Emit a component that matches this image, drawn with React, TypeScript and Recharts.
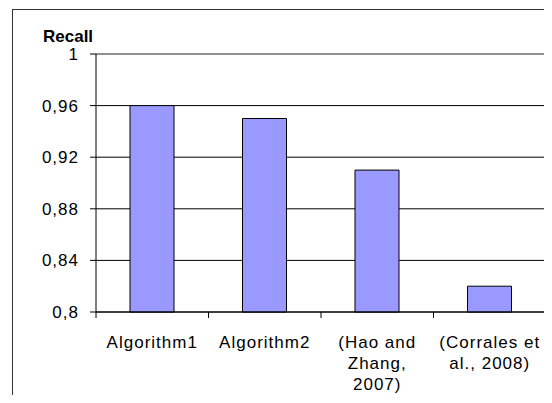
import { BarChart, Bar, XAxis, YAxis, CartesianGrid, ReferenceLine } from 'recharts'

const categories = ['Algorithm1', 'Algorithm2', '(Hao and\nZhang,\n2007)', '(Corrales et\nal., 2008)']
const recall = [0.96, 0.95, 0.91, 0.82]
const yTicks = [0.8, 0.84, 0.88, 0.92, 0.96, 1]

const data = categories.map((name, i) => ({ name, recall: recall[i] }))

const FONT = '"Liberation Sans", Arial, sans-serif'
const WIDTH = 552
const HEIGHT = 403
const MARGIN = { top: 54, right: 6, left: 0, bottom: 0 }
const Y_AXIS_W = 96
const BAND = (WIDTH - MARGIN.left - MARGIN.right - Y_AXIS_W) / categories.length

// decimal comma, trailing zeros dropped: 0,8 / 0,84 / 1
const formatTick = (v: number) => String(Number(v.toFixed(2))).replace('.', ',')

// label centred under the band, tick marks on the band edges (between categories)
function CategoryTick({ x, y, payload, index }: any) {
  const lines = String(payload.value).split('\n')
  const last = index === categories.length - 1
  return (
    <g>
      <line x1={x - BAND / 2} x2={x - BAND / 2} y1={y} y2={y + 6} stroke="#000" />
      {last && <line x1={x + BAND / 2} x2={x + BAND / 2} y1={y} y2={y + 6} stroke="#000" />}
      <text x={x} y={y} textAnchor="middle" fontFamily={FONT} fontSize={17} letterSpacing={1} fill="#000">
        {lines.map((line, i) => (
          <tspan key={i} x={x} dy={i === 0 ? 36 : 21}>
            {line}
          </tspan>
        ))}
      </text>
    </g>
  )
}

export default function App() {
  return (
    <div style={{ position: 'relative', width: WIDTH, height: HEIGHT, margin: -8, overflow: 'hidden', background: '#fff' }}>
      <div
        style={{
          position: 'absolute',
          left: 12,
          top: 9,
          width: 600,
          height: 500,
          border: '1px solid #333',
        }}
      />
      <div
        style={{
          position: 'absolute',
          left: 43,
          top: 28,
          fontFamily: FONT,
          fontSize: 17,
          lineHeight: '17px',
          fontWeight: 'bold',
          color: '#000',
        }}
      >
        Recall
      </div>
      <BarChart
        width={WIDTH}
        height={HEIGHT}
        data={data}
        margin={MARGIN}
        style={{ position: 'absolute', left: 0, top: 0 }}
      >
        <CartesianGrid vertical={false} stroke="#000" />
        {/* grey right edge of the plot area */}
        <CartesianGrid horizontal={false} verticalPoints={[WIDTH - MARGIN.right - 0.5]} stroke="#a0a0a0" />
        <XAxis
          dataKey="name"
          interval={0}
          height={91}
          tickSize={0}
          tickMargin={0}
          axisLine={{ stroke: '#000' }}
          tickLine={false}
          tick={<CategoryTick />}
        />
        <YAxis
          width={Y_AXIS_W}
          domain={[0.8, 1]}
          ticks={yTicks}
          tickFormatter={formatTick}
          tickSize={6}
          tickMargin={11}
          axisLine={{ stroke: '#000' }}
          tickLine={{ stroke: '#000' }}
          tick={{ fill: '#000', fontSize: 17, fontFamily: FONT, letterSpacing: 1 }}
        />
        <ReferenceLine y={1} stroke="#a0a0a0" />
        <Bar dataKey="recall" fill="#9999ff" stroke="#000" strokeWidth={1} barSize={44} isAnimationActive={false} />
      </BarChart>
    </div>
  )
}
